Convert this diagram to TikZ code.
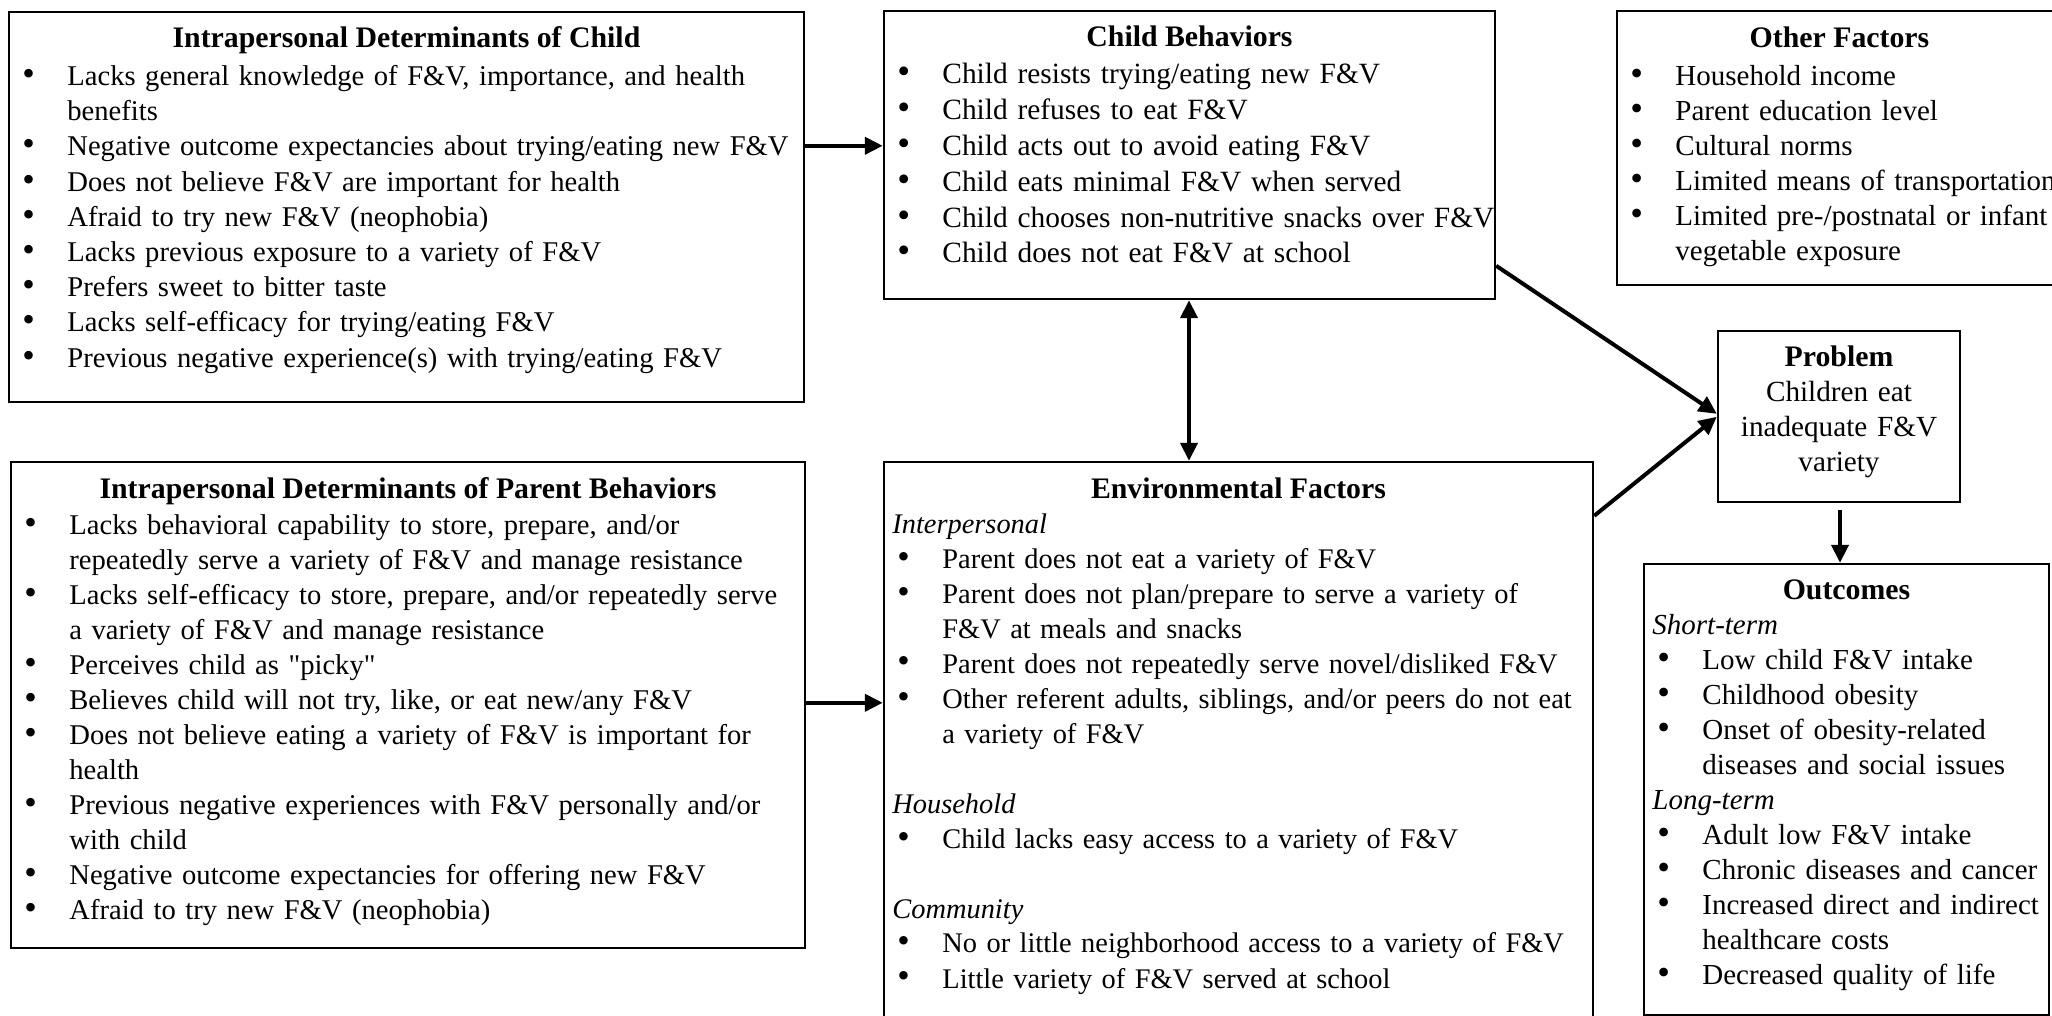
\documentclass[tikz,border=0pt]{standalone}
\usepackage{graphicx}
\usepackage{fontspec}
\setmainfont{Liberation Serif}
\usetikzlibrary{arrows.meta,fit,calc}

\newlength\bw \setlength\bw{25pt}
\newlength\bo \setlength\bo{2.5pt}
\newcommand\bl[1]{\makebox[\bw][l]{\hspace{\bo}\scalebox{1.25}{\textbullet}}#1}
\newcommand\cl[1]{\hspace*{\bw}#1}

\begin{document}
\begin{tikzpicture}[x=0.5pt,y=-0.5pt,
  box/.style={draw, line width=1.2pt, inner sep=0pt},
  txt/.style={anchor=base west, align=left, text width=420pt, inner sep=0pt},
  ctxt/.style={anchor=base, align=center, text width=140pt, inner sep=0pt, font=\fontsize{14.6}{17.5}\selectfont},
  ttl/.style={anchor=base, inner sep=0pt, font=\fontsize{14.9}{17.5}\selectfont\bfseries},
  tip/.tip={Triangle[length=9pt,width=8.5pt]},
  arr/.style={line width=2pt, -tip},
  darr/.style={line width=2pt, tip-tip},
]
\useasboundingbox (0,0) rectangle (2052,1016);
\clip (0,0) rectangle (2052,1016);

% boxes
\node[box, fit={(9,12)(804,402)}] (b1) {};
\node[box, fit={(11,462)(805,948)}] (b2) {};
\node[box, fit={(884,11)(1495,299)}] (b3) {};
\node[box, fit={(884,462)(1593,1040)}] (b4) {};
\node[box, fit={(1617,11)(2062,285)}] (b5) {};
\node[box, fit={(1718,331)(1960,502)}] (b6) {};
\node[box, fit={(1644,564)(2049,1015)}] (b7) {};

% box 1
\node[ttl] (h1) at (406.5,48) {Intrapersonal Determinants of Child};
\node[txt, font=\fontsize{14.3}{17.6}\selectfont] (t1) at (17,85.5) {%
\bl{Lacks general knowledge of F\&V, importance, and health}\\
\cl{benefits}\\
\bl{Negative outcome expectancies about trying/eating new F\&V}\\
\bl{Does not believe F\&V are important for health}\\
\bl{Afraid to try new F\&V (neophobia)}\\
\bl{Lacks previous exposure to a variety of F\&V}\\
\bl{Prefers sweet to bitter taste}\\
\bl{Lacks self-efficacy for trying/eating F\&V}\\
\bl{Previous negative experience(s) with trying/eating F\&V}};

% box 2
\node[ttl] (h2) at (408,498) {Intrapersonal Determinants of Parent Behaviors};
\node[txt, font=\fontsize{14.3}{17.5}\selectfont] (t2) at (19,534.5) {%
\bl{Lacks behavioral capability to store, prepare, and/or}\\
\cl{repeatedly serve a variety of F\&V and manage resistance}\\
\bl{Lacks self-efficacy to store, prepare, and/or repeatedly serve}\\
\cl{a variety of F\&V and manage resistance}\\
\bl{Perceives child as \textquotedbl picky\textquotedbl}\\
\bl{Believes child will not try, like, or eat new/any F\&V}\\
\bl{Does not believe eating a variety of F\&V is important for}\\
\cl{health}\\
\bl{Previous negative experiences with F\&V personally and/or}\\
\cl{with child}\\
\bl{Negative outcome expectancies for offering new F\&V}\\
\bl{Afraid to try new F\&V (neophobia)}};

% box 3
\node[ttl] (h3) at (1189.5,47) {Child Behaviors};
\node[txt, font=\fontsize{14.7}{17.9}\selectfont] (t3) at (892,84) {%
\bl{Child resists trying/eating new F\&V}\\
\bl{Child refuses to eat F\&V}\\
\bl{Child acts out to avoid eating F\&V}\\
\bl{Child eats minimal F\&V when served}\\
\bl{Child chooses non-nutritive snacks over F\&V}\\
\bl{Child does not eat F\&V at school}};

% box 4
\node[ttl] (h4) at (1238.5,498) {Environmental Factors};
\node[txt, font=\fontsize{14.2}{17.5}\selectfont] (t4) at (892,533) {%
\textit{Interpersonal}\\
\bl{Parent does not eat a variety of F\&V}\\
\bl{Parent does not plan/prepare to serve a variety of}\\
\cl{F\&V at meals and snacks}\\
\bl{Parent does not repeatedly serve novel/disliked F\&V}\\
\bl{Other referent adults, siblings, and/or peers do not eat}\\
\cl{a variety of F\&V}\\[17.5pt]
\textit{Household}\\
\bl{Child lacks easy access to a variety of F\&V}\\[17.5pt]
\textit{Community}\\
\bl{No or little neighborhood access to a variety of F\&V}\\
\bl{Little variety of F\&V served at school}};

% box 5
\node[ttl] (h5) at (1839.5,47.5) {Other Factors};
\node[txt, font=\fontsize{14.5}{17.5}\selectfont] (t5) at (1625,85.5) {%
\bl{Household income}\\
\bl{Parent education level}\\
\bl{Cultural norms}\\
\bl{Limited means of transportation}\\
\bl{Limited pre-/postnatal or infant}\\
\cl{vegetable exposure}};

% box 6
\node[ttl] (h6) at (1839,366) {Problem};
\node[ctxt] (t6) at (1839,401) {Children eat\\inadequate F\&V\\variety};

% box 7
\node[ttl] (h7) at (1846.5,599.5) {Outcomes};
\node[txt, font=\fontsize{14.5}{17.5}\selectfont] (t7) at (1652,634.5) {%
\textit{Short-term}\\
\bl{Low child F\&V intake}\\
\bl{Childhood obesity}\\
\bl{Onset of obesity-related}\\
\cl{diseases and social issues}\\
\textit{Long-term}\\
\bl{Adult low F\&V intake}\\
\bl{Chronic diseases and cancer}\\
\bl{Increased direct and indirect}\\
\cl{healthcare costs}\\
\bl{Decreased quality of life}};

% connectors
\draw[arr] ($(b1.north east)+(0,135)$) -- ($(b3.north west)+(0,136)$);
\draw[darr] (b3.south -| 1189,0) -- (b4.north -| 1189,0);
\draw[arr] ($(b2.north east)+(0,242)$) -- ($(b4.north west)+(0,242)$);
\draw[arr] ($(b3.north east)+(0,256)$) -- ($(b6.north west)+(0,84)$);
\draw[arr] ($(b4.north east)+(0,55)$) -- ($(b6.north west)+(0,87)$);
\draw[arr] ($(b6.south)+(1,7)$) -- (b7.north -| 1840,0);
\end{tikzpicture}
\end{document}
